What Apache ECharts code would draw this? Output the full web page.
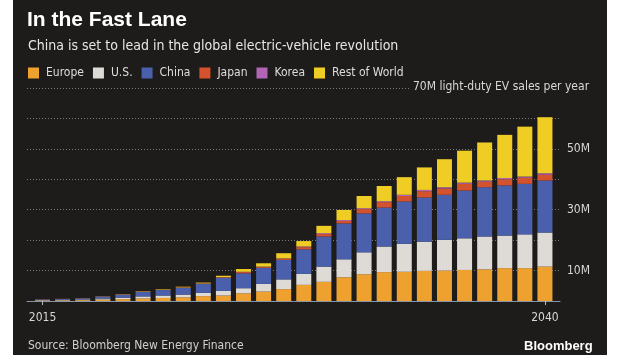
<!DOCTYPE html>
<html>
<head>
<meta charset="utf-8">
<script src="https://cdn.jsdelivr.net/npm/echarts@6/dist/echarts.min.js"></script>
<style>
html,body{margin:0;padding:0;background:#ffffff;}
#wrap{position:relative;width:620px;height:355px;background:#ffffff;overflow:hidden;}
#panel{position:absolute;left:13px;top:0;width:594px;height:355px;background:#1e1c1a;}
#chart{position:absolute;left:0;top:0;width:620px;height:355px;}
</style>
</head>
<body>
<div id="wrap"><div id="panel"></div><div id="chart"></div></div>
<script>
const years = ['2015','2016','2017','2018','2019','2020','2021','2022','2023','2024','2025','2026','2027','2028','2029','2030','2031','2032','2033','2034','2035','2036','2037','2038','2039','2040'];
const europe = [0.18,0.22,0.28,0.45,0.6,0.8,1.0,1.2,1.6,1.8,2.5,3.1,3.9,5.3,6.3,7.8,8.8,9.5,9.6,9.9,10.0,10.2,10.4,10.8,10.8,11.3];
const us     = [0.12,0.16,0.2,0.35,0.5,0.7,0.8,0.9,1.1,1.5,1.7,2.5,3.2,3.6,5.0,5.9,7.2,8.4,9.2,9.6,10.1,10.4,10.8,10.7,11.1,11.2];
const china  = [0.2,0.3,0.4,0.65,1.0,1.5,1.8,2.2,2.9,4.3,4.9,5.3,6.4,8.1,9.9,11.8,12.8,12.8,13.9,14.5,14.8,15.7,16.2,16.5,16.6,17.1];
const japan  = [0.03,0.03,0.04,0.06,0.08,0.1,0.12,0.15,0.15,0.2,0.4,0.3,0.4,0.7,0.8,0.8,1.4,1.8,1.8,2.1,2.1,2.2,1.8,2.0,2.0,1.9];
const korea  = [0.0,0.01,0.01,0.02,0.02,0.03,0.04,0.05,0.05,0.05,0.1,0.1,0.1,0.2,0.3,0.3,0.3,0.3,0.4,0.4,0.4,0.4,0.4,0.4,0.4,0.5];
const rest   = [0.02,0.02,0.03,0.05,0.08,0.12,0.15,0.2,0.25,0.45,0.9,1.1,1.7,1.8,2.4,3.3,4.0,5.0,5.8,7.4,9.2,10.5,12.5,14.2,16.4,18.4];
const seriesNames = ['Europe','U.S.','China','Japan','Korea','Rest of World'];
const seriesData = [europe, us, china, japan, korea, rest];
const colors = ['#eea12e','#dedad6','#4a60ad','#d4532e','#b065b5','#f0cd24'];
const yTickLabels = {10:'10M',30:'30M',50:'50M'};

const FONT = "'Liberation Sans Narrow','DejaVu Sans Condensed','Liberation Sans',sans-serif";
const chart = echarts.init(document.getElementById('chart'), null, {renderer:'canvas'});

const series = seriesNames.map((n,i)=>({
  name:n, type:'bar', stack:'total', data:seriesData[i],
  xAxisIndex:0, yAxisIndex:0, barWidth:15,
  itemStyle:{color:colors[i]}, emphasis:{disabled:true}
}));

chart.setOption({
  animation:false,
  backgroundColor:'transparent',
  textStyle:{fontFamily:FONT},
  title:[
    {text:'In the Fast Lane', left:27, top:10, padding:0, textStyle:{color:'#ffffff', fontSize:21, fontWeight:'bold', fontFamily:"'Liberation Sans',sans-serif"}},
    {text:'China is set to lead in the global electric-vehicle revolution', left:28, top:39, padding:0, textStyle:{color:'#e6e6e6', fontSize:14, fontWeight:'normal', fontFamily:FONT}}
  ],
  legend:{
    left:28, top:67, padding:0, itemWidth:11, itemHeight:11, itemGap:9, icon:'rect',
    data:seriesNames, selectedMode:false,
    textStyle:{color:'#dddddd', fontSize:12, fontFamily:FONT, padding:[0,0,0,2]}
  },
  grid:[
    {left:32.5, right:65, top:88, bottom:54},
    {left:27, right:60, top:88, bottom:54}
  ],
  xAxis:[
    {type:'category', gridIndex:0, data:years,
     axisLine:{show:false},
     axisTick:{show:true, alignWithLabel:true, length:4, lineStyle:{color:'#bbbbbb'}, interval:(i)=>i===0||i===25},
     axisLabel:{color:'#d8d8d8', fontSize:12, margin:11, fontFamily:FONT, interval:(i)=>i===0||i===25}
    },
    {type:'value', gridIndex:1, min:0, max:1, show:true,
     axisLine:{show:true, lineStyle:{color:'#8795a8', width:1}},
     axisTick:{show:false}, axisLabel:{show:false}, splitLine:{show:false}}
  ],
  yAxis:[
    {type:'value', gridIndex:0, position:'right', min:0, max:70, interval:10,
     axisLine:{show:false}, axisTick:{show:false}, splitLine:{show:false},
     axisLabel:{color:'#d8d8d8', fontSize:12, margin:12, fontFamily:FONT,
       formatter:(v)=>yTickLabels[v]||''}},
    {type:'value', gridIndex:1, min:0, max:70, interval:10,
     axisLine:{show:false}, axisTick:{show:false}, axisLabel:{show:false},
     splitLine:{show:true, lineStyle:{color:'#7a7a7a', type:[1,2], width:1}}}
  ],
  series:series,
  graphic:[
    {type:'text', z:100, left:409, top:81,
     style:{text:'70M light-duty EV sales per year', fill:'#d8d8d8', font:"12px "+FONT,
       backgroundColor:'#1e1c1a', padding:[0,4,0,4]}},
    {type:'text', left:28, top:340,
     style:{text:'Source: Bloomberg New Energy Finance', fill:'#d0d0d0', font:"12px "+FONT}},
    {type:'text', left:524, top:340,
     style:{text:'Bloomberg', fill:'#ffffff', font:"bold 13px 'Liberation Sans',sans-serif"}}
  ]
});
</script>
</body>
</html>
